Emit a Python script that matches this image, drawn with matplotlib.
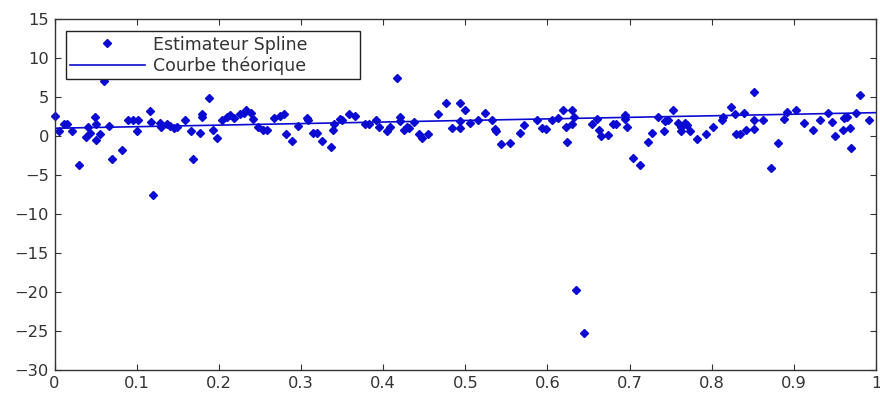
import matplotlib
matplotlib.use("Agg")
import matplotlib.pyplot as plt

# points de l'estimateur spline
x_spline = [0.001, 0.005, 0.011, 0.015, 0.021, 0.030, 0.038, 0.041, 0.043, 0.049,
            0.051, 0.051, 0.055, 0.060, 0.066, 0.070, 0.082, 0.090, 0.096, 0.100,
            0.102, 0.116, 0.118, 0.120, 0.128, 0.129, 0.137, 0.141, 0.145, 0.149,
            0.159, 0.166, 0.168, 0.177, 0.179, 0.179, 0.188, 0.193, 0.198, 0.204,
            0.210, 0.213, 0.218, 0.226, 0.230, 0.233, 0.239, 0.242, 0.248, 0.254,
            0.258, 0.267, 0.274, 0.279, 0.282, 0.289, 0.296, 0.307, 0.309, 0.314,
            0.320, 0.326, 0.337, 0.339, 0.340, 0.347, 0.350, 0.358, 0.366, 0.378,
            0.383, 0.391, 0.395, 0.405, 0.408, 0.417, 0.421, 0.421, 0.425, 0.429,
            0.432, 0.437, 0.444, 0.447, 0.455, 0.467, 0.477, 0.484, 0.493, 0.494,
            0.494, 0.500, 0.506, 0.516, 0.524, 0.532, 0.536, 0.537, 0.544, 0.554,
            0.566, 0.571, 0.587, 0.593, 0.598, 0.605, 0.613, 0.619, 0.623, 0.624,
            0.630, 0.630, 0.632, 0.635, 0.644, 0.654, 0.660, 0.663, 0.665, 0.674,
            0.680, 0.684, 0.694, 0.695, 0.697, 0.704, 0.713, 0.723, 0.727, 0.734,
            0.742, 0.743, 0.747, 0.753, 0.759, 0.763, 0.763, 0.768, 0.770, 0.773,
            0.782, 0.793, 0.802, 0.812, 0.814, 0.824, 0.828, 0.830, 0.834, 0.839,
            0.842, 0.851, 0.851, 0.851, 0.862, 0.872, 0.881, 0.888, 0.892, 0.903,
            0.912, 0.923, 0.932, 0.942, 0.946, 0.950, 0.960, 0.961, 0.965, 0.968,
            0.970, 0.976, 0.981, 0.992]
y_spline = [2.6, 0.6, 1.5, 1.6, 0.7, -3.7, -0.1, 1.1, 0.4, 2.5,
            -0.5, 1.6, 0.3, 7.1, 1.3, -2.9, -1.8, 2.1, 2.1, 0.6,
            2.0, 3.2, 1.8, -7.5, 1.7, 1.1, 1.5, 1.3, 1.0, 1.1,
            2.1, 0.6, -3.0, 0.4, 2.8, 2.4, 4.9, 0.8, -0.2, 2.0,
            2.4, 2.7, 2.3, 2.8, 3.0, 3.4, 3.0, 2.2, 1.1, 0.8,
            0.8, 2.3, 2.6, 2.8, 0.3, -0.6, 1.3, 2.3, 2.0, 0.4,
            0.4, -0.6, -1.4, 0.8, 1.5, 2.2, 2.0, 2.8, 2.6, 1.6,
            1.6, 2.0, 1.2, 0.6, 1.2, 7.5, 2.5, 1.9, 0.8, 1.2,
            1.0, 1.8, 0.2, -0.2, 0.3, 2.8, 4.3, 1.0, 1.0, 4.3,
            1.9, 3.4, 1.7, 2.1, 2.9, 2.1, 0.9, 0.6, -1.0, -0.9,
            0.4, 1.4, 2.1, 1.0, 0.9, 2.0, 2.3, 3.3, 1.2, -0.7,
            3.3, 1.6, 2.5, -19.8, -25.3, 1.6, 2.2, 0.8, 0.0, 0.1,
            1.5, 1.5, 2.7, 2.2, 1.2, -2.8, -3.7, -0.8, 0.4, 2.5,
            0.6, 1.9, 2.0, 3.3, 1.7, 1.1, 0.6, 1.7, 1.4, 0.7,
            -0.4, 0.3, 1.2, 2.0, 2.5, 3.7, 2.8, 0.3, 0.3, 3.0,
            0.8, 5.6, 2.0, 0.9, 2.0, -4.1, -0.9, 2.2, 3.1, 3.3,
            1.7, 0.8, 2.1, 3.0, 1.8, 0.0, 0.8, 2.3, 2.4, 1.0,
            -1.5, 2.9, 5.2, 2.0]

# courbe théorique
x_courbe = [0.0, 0.25, 0.5, 0.75, 1.0]
y_courbe = [1.0, 1.5, 2.0, 2.5, 3.0]

x_ticks = [0, 0.1, 0.2, 0.3, 0.4, 0.5, 0.6, 0.7, 0.8, 0.9, 1]
x_labels = ['0', '0.1', '0.2', '0.3', '0.4', '0.5', '0.6', '0.7', '0.8', '0.9', '1']
y_ticks = [-30, -25, -20, -15, -10, -5, 0, 5, 10, 15]

plt.rcParams['font.family'] = ['DejaVu Sans']

fig = plt.figure(figsize=(8.8, 4.08), dpi=100)
ax = fig.add_axes([0.062, 0.093, 0.9335, 0.8603])

bleu = '#0a0ad2'
ax.plot(x_spline, y_spline, linestyle='none', marker='D', markersize=3.6,
        color=bleu, clip_on=False, label='Estimateur Spline')
ax.plot(x_courbe, y_courbe, color=bleu, linewidth=1.2, label='Courbe théorique')

ax.set_xlim(0, 1)
ax.set_ylim(-30, 15)
ax.set_xticks(x_ticks)
ax.set_xticklabels(x_labels)
ax.set_yticks(y_ticks)
ax.tick_params(direction='in', top=True, right=True, length=4, width=0.8,
               labelsize=11.7, colors='#333333', pad=4)
for s in ax.spines.values():
    s.set_color('#333333')
    s.set_linewidth(1.0)

# légende placée comme dans la figure d'origine
leg = ax.legend(loc='upper left', bbox_to_anchor=(0.0136, 0.0, 0.358, 0.9655),
                mode='expand', fontsize=12.5, handlelength=4.3, handletextpad=0.45,
                borderpad=0.25, labelspacing=0.15, borderaxespad=0.0,
                fancybox=False, framealpha=1, edgecolor='#222222')
leg.get_frame().set_linewidth(1.0)
for t in leg.get_texts():
    t.set_color('#333333')

fig.savefig('out.png', dpi=100)
